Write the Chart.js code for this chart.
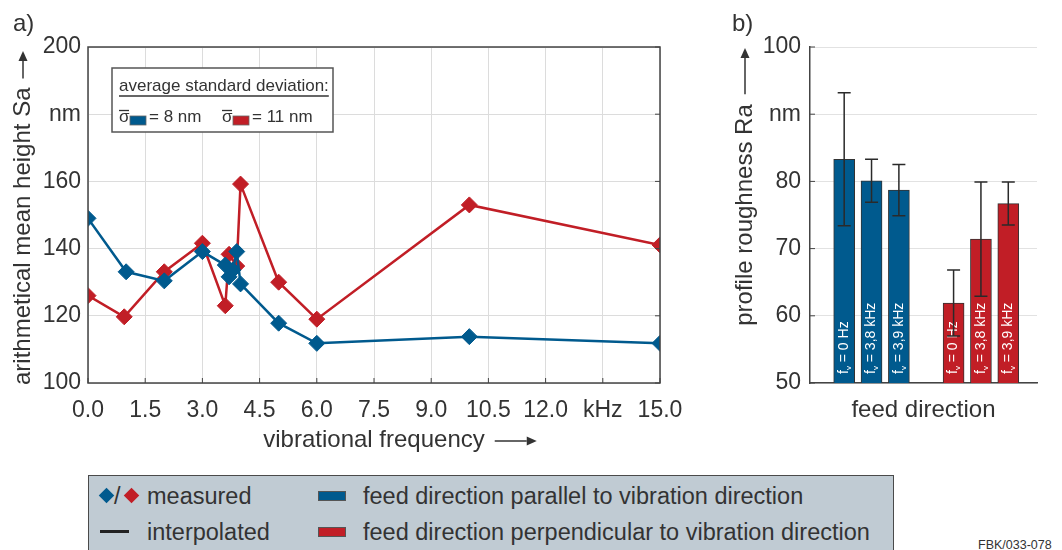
<!DOCTYPE html>
<html>
<head>
<meta charset="utf-8">
<script src="https://cdn.jsdelivr.net/npm/chart.js@4.4.1/dist/chart.umd.min.js"></script>
<style>
  body { margin: 0; width: 1062px; height: 550px; overflow: hidden; background: #fff;
         font-family: "Liberation Sans", Arial, sans-serif; color: #333; position: relative; }
  canvas { position: absolute; top: 0; }
  #sa-chart { left: 0; }
  #ra-chart { left: 700px; }
  .panel-tag { position: absolute; font-size: 24px; line-height: 24px; color: #333; }
  #legend { position: absolute; left: 88px; top: 475px; width: 804px; height: 90px;
            background: #c0cbd3; border: 1.5px solid #4a4a4a; border-bottom: none; }
  #legend span { position: absolute; }
  .lg-text { font-size: 23.5px; line-height: 28px; color: #333; white-space: nowrap; }
  .diamond { width: 11px; height: 11px; transform: rotate(45deg); }
  #fbk { position: absolute; left: 978px; top: 538px; font-size: 12.5px; color: #333; }
</style>
</head>
<body>
<canvas id="sa-chart" width="700" height="470"></canvas>
<canvas id="ra-chart" width="362" height="470"></canvas>
<div class="panel-tag" style="left:13px; top:11px;">a)</div>
<div class="panel-tag" style="left:732px; top:11px;">b)</div>

<div id="legend">
  <span class="diamond" style="left:12px; top:14px; background:#005a8e;"></span>
  <span class="lg-text" style="left:25px; top:6px;">/</span>
  <span class="diamond" style="left:37px; top:14px; background:#c11e26;"></span>
  <span class="lg-text" style="left:58px; top:6px;">measured</span>
  <span style="left:11px; top:54px; width:29px; height:2.5px; background:#222;"></span>
  <span class="lg-text" style="left:58px; top:42px;">interpolated</span>
  <span style="left:229px; top:15px; width:28px; height:10px; background:#005a8e; border:1px solid #555; box-sizing:border-box;"></span>
  <span class="lg-text" style="left:274px; top:6px;">feed direction parallel to vibration direction</span>
  <span style="left:229px; top:51px; width:28px; height:10px; background:#c11e26; border:1px solid #555; box-sizing:border-box;"></span>
  <span class="lg-text" style="left:274px; top:42px;">feed direction perpendicular to vibration direction</span>
</div>
<div id="fbk">FBK/033-078</div>

<script>
const BLUE = "#005a8e";
const RED = "#c11e26";
const INK = "#333333";
const FONT = '"Liberation Sans", Arial, sans-serif';

// a) arithmetical mean height Sa over vibrational frequency
const freqParallel = [0, 1, 2, 3, 3.6, 3.7, 3.8, 3.9, 4, 5, 6, 10, 15];
const saParallel = [149, 133.1, 130.4, 139.1, 135.1, 131.6, 133.6, 139.1, 129.5, 117.8, 111.8, 113.8, 111.8];
const freqPerp = [0, 0.95, 2, 3, 3.6, 3.7, 3.9, 4, 5, 6, 10, 15];
const saPerp = [126, 119.7, 133.1, 141.6, 123, 138.3, 134.8, 159.2, 130, 119, 153, 141.1];
const freqTickLabels = ["0.0", "1.5", "3.0", "4.5", "6.0", "7.5", "9.0", "10.5", "12.0", "kHz", "15.0"];
const saTickLabels = ["100", "120", "140", "160", "nm", "200"];

// b) profile roughness Ra
const barCategories = ["0 Hz", "3,8 kHz", "3,9 kHz"];
const raParallel = [83.3, 80.1, 78.7];
const raParallelErr = [9.9, 3.2, 3.8];
const raPerp = [61.9, 71.4, 76.7];
const raPerpErr = [4.9, 8.5, 3.2];
const raTickLabels = ["50", "60", "70", "80", "nm", "100"];

function drawArrow(ctx, x1, y1, x2, y2) {
  const ang = Math.atan2(y2 - y1, x2 - x1);
  const head = 10;
  ctx.save();
  ctx.strokeStyle = INK;
  ctx.fillStyle = INK;
  ctx.lineWidth = 1.5;
  ctx.beginPath();
  ctx.moveTo(x1, y1);
  ctx.lineTo(x2 - Math.cos(ang) * head, y2 - Math.sin(ang) * head);
  ctx.stroke();
  ctx.translate(x2, y2);
  ctx.rotate(ang);
  ctx.beginPath();
  ctx.moveTo(0, 0);
  ctx.lineTo(-head, -4.5);
  ctx.lineTo(-head, 4.5);
  ctx.closePath();
  ctx.fill();
  ctx.restore();
}

const saDecor = {
  id: "saDecor",
  afterDraw(chart) {
    const ctx = chart.ctx;
    const a = chart.chartArea;
    const xs = chart.scales.x;
    const ys = chart.scales.y;
    ctx.save();
    // frame
    ctx.strokeStyle = "#444";
    ctx.lineWidth = 1.5;
    ctx.strokeRect(a.left, a.top, a.right - a.left, a.bottom - a.top);
    // inward ticks
    ctx.lineWidth = 1;
    ctx.beginPath();
    xs.ticks.forEach((t, i) => {
      const px = xs.getPixelForTick(i);
      ctx.moveTo(px, a.bottom);
      ctx.lineTo(px, a.bottom - 5);
    });
    ys.ticks.forEach((t, i) => {
      const py = ys.getPixelForTick(i);
      ctx.moveTo(a.right, py);
      ctx.lineTo(a.right - 5, py);
    });
    ctx.stroke();

    // axis titles
    ctx.fillStyle = INK;
    ctx.font = "24px " + FONT;
    ctx.textBaseline = "middle";
    const xt = "vibrational frequency";
    const xw = ctx.measureText(xt).width;
    const cx = (a.left + a.right) / 2;
    ctx.textAlign = "center";
    ctx.fillText(xt, cx, 440);
    drawArrow(ctx, cx + xw / 2 + 10, 441, cx + xw / 2 + 52, 441);

    const yt = "arithmetical mean height Sa";
    const yw = ctx.measureText(yt).width;
    ctx.save();
    ctx.translate(23, a.bottom + 2);
    ctx.rotate(-Math.PI / 2);
    ctx.textAlign = "left";
    ctx.fillText(yt, 0, 0);
    ctx.restore();
    drawArrow(ctx, 23, a.bottom + 2 - yw - 9, 23, a.top + 4);

    // standard deviation box
    const bx = 112, by = 68, bw = 221, bh = 64;
    ctx.fillStyle = "#fff";
    ctx.fillRect(bx, by, bw, bh);
    ctx.strokeStyle = "#555";
    ctx.lineWidth = 1.5;
    ctx.strokeRect(bx, by, bw, bh);
    ctx.fillStyle = INK;
    ctx.font = "17px " + FONT;
    ctx.textAlign = "left";
    ctx.textBaseline = "alphabetic";
    const head = "average standard deviation:";
    ctx.fillText(head, 119, 91);
    const hw = ctx.measureText(head).width;
    ctx.strokeStyle = INK;
    ctx.lineWidth = 1.3;
    ctx.beginPath();
    ctx.moveTo(119, 96);
    ctx.lineTo(119 + hw, 96);
    ctx.stroke();

    const sigma = (x, color, label) => {
      ctx.fillStyle = INK;
      ctx.fillText("\u03c3", x, 122);
      ctx.beginPath();
      ctx.moveTo(x, 110.5);
      ctx.lineTo(x + 10, 110.5);
      ctx.stroke();
      ctx.fillStyle = color;
      ctx.fillRect(x + 11, 116, 16, 9);
      ctx.strokeStyle = "#666";
      ctx.lineWidth = 0.8;
      ctx.strokeRect(x + 11, 116, 16, 9);
      ctx.strokeStyle = INK;
      ctx.lineWidth = 1.3;
      ctx.fillStyle = INK;
      ctx.fillText(label, x + 30, 122);
    };
    sigma(119, BLUE, "= 8 nm");
    sigma(222, RED, "= 11 nm");
    ctx.restore();
  }
};

const raDecor = {
  id: "raDecor",
  afterDatasetsDraw(chart) {
    const ctx = chart.ctx;
    const a = chart.chartArea;
    const ys = chart.scales.y;
    const errs = [raParallelErr, raPerpErr];
    ctx.save();
    chart.data.datasets.forEach((ds, di) => {
      chart.getDatasetMeta(di).data.forEach((bar, i) => {
        // label inside bar
        ctx.save();
        ctx.translate(bar.x, a.bottom - 9);
        ctx.rotate(-Math.PI / 2);
        ctx.fillStyle = "#fff";
        ctx.textBaseline = "middle";
        ctx.textAlign = "left";
        ctx.font = "14px " + FONT;
        ctx.fillText("f", 0, 0);
        const fw = ctx.measureText("f").width;
        ctx.font = "8px " + FONT;
        ctx.fillText("v", fw, 4.5);
        ctx.font = "14px " + FONT;
        ctx.fillText(" = " + barCategories[i], fw + 4, 0);
        ctx.restore();

        // error bar
        const v = ds.data[i].y;
        const e = errs[di][i];
        const yTop = ys.getPixelForValue(v + e);
        const yBot = ys.getPixelForValue(v - e);
        ctx.strokeStyle = "#2a2a2a";
        ctx.lineWidth = 1.5;
        ctx.beginPath();
        ctx.moveTo(bar.x, yTop);
        ctx.lineTo(bar.x, yBot);
        ctx.moveTo(bar.x - 6.5, yTop);
        ctx.lineTo(bar.x + 6.5, yTop);
        ctx.moveTo(bar.x - 6.5, yBot);
        ctx.lineTo(bar.x + 6.5, yBot);
        ctx.stroke();
      });
    });
    ctx.restore();
  },
  afterDraw(chart) {
    const ctx = chart.ctx;
    const a = chart.chartArea;
    const ys = chart.scales.y;
    ctx.save();
    ctx.strokeStyle = "#444";
    ctx.lineWidth = 1;
    ctx.beginPath();
    ys.ticks.forEach((t, i) => {
      const py = ys.getPixelForTick(i);
      ctx.moveTo(a.left, py);
      ctx.lineTo(a.left + 5, py);
    });
    ctx.stroke();

    ctx.fillStyle = INK;
    ctx.font = "24px " + FONT;
    ctx.textBaseline = "middle";
    ctx.textAlign = "center";
    ctx.fillText("feed direction", (a.left + a.right) / 2, 410);

    const yt = "profile roughness Ra";
    const yw = ctx.measureText(yt).width;
    const cy = (a.top + a.bottom) / 2;
    ctx.save();
    ctx.translate(45, cy);
    ctx.rotate(-Math.PI / 2);
    ctx.fillText(yt, 0, 0);
    ctx.restore();
    drawArrow(ctx, 45, cy - yw / 2 - 10, 45, a.top + 1);
    ctx.restore();
  }
};

const tickFont = { family: FONT, size: 23 };

const lineStyle = color => ({
  borderColor: color,
  backgroundColor: color,
  borderWidth: 2.5,
  pointStyle: "rectRot",
  pointRadius: 8,
  pointBorderWidth: 1,
  tension: 0
});

new Chart(document.getElementById("sa-chart"), {
  type: "line",
  data: {
    datasets: [
      Object.assign({
        label: "parallel",
        data: freqParallel.map((f, i) => ({ x: f, y: saParallel[i] }))
      }, lineStyle(BLUE)),
      Object.assign({
        label: "perpendicular",
        data: freqPerp.map((f, i) => ({ x: f, y: saPerp[i] }))
      }, lineStyle(RED))
    ]
  },
  options: {
    responsive: false,
    animation: false,
    devicePixelRatio: 1,
    layout: { padding: { left: 0, top: 47, right: 40, bottom: 0 } },
    plugins: { legend: { display: false }, tooltip: { enabled: false } },
    scales: {
      x: {
        type: "linear",
        min: 0,
        max: 15,
        afterFit: s => { s.height = 470 - 383; },
        ticks: {
          stepSize: 1.5,
          color: INK,
          font: tickFont,
          padding: 14,
          maxRotation: 0,
          callback: (v, i) => freqTickLabels[i]
        },
        grid: { color: "#dcdcdc", lineWidth: 1, drawTicks: false },
        border: { display: false }
      },
      y: {
        min: 100,
        max: 200,
        afterFit: s => { s.width = 88; },
        ticks: {
          stepSize: 20,
          color: INK,
          font: tickFont,
          padding: 7,
          callback: (v, i) => saTickLabels[i]
        },
        grid: { color: "#dcdcdc", lineWidth: 1, drawTicks: false },
        border: { display: false }
      }
    }
  },
  plugins: [saDecor]
});

const perpStart = raParallel.length + 1;

const barStyle = color => ({
  backgroundColor: color,
  borderColor: "#333",
  borderWidth: 1,
  barThickness: 21,
  grouped: false
});

new Chart(document.getElementById("ra-chart"), {
  type: "bar",
  data: {
    datasets: [
      Object.assign({
        label: "parallel",
        data: raParallel.map((v, i) => ({ x: i, y: v }))
      }, barStyle(BLUE)),
      Object.assign({
        label: "perpendicular",
        data: raPerp.map((v, i) => ({ x: perpStart + i, y: v }))
      }, barStyle(RED))
    ]
  },
  options: {
    responsive: false,
    animation: false,
    devicePixelRatio: 1,
    layout: { padding: { left: 0, top: 47, right: 25, bottom: 0 } },
    plugins: { legend: { display: false }, tooltip: { enabled: false } },
    scales: {
      x: {
        type: "linear",
        offset: false,
        min: -1.25,
        max: 7.05,
        afterFit: s => { s.height = 470 - 383; },
        ticks: { display: false },
        grid: { display: false, offset: false },
        border: { display: true, color: "#444", width: 1.5 }
      },
      y: {
        min: 50,
        max: 100,
        afterFit: s => { s.width = 110; },
        ticks: {
          stepSize: 10,
          color: INK,
          font: tickFont,
          padding: 9,
          callback: (v, i) => raTickLabels[i]
        },
        grid: { color: "#e2e2e2", lineWidth: 1, drawTicks: false },
        border: { display: true, color: "#444", width: 1.5 }
      }
    }
  },
  plugins: [raDecor]
});
</script>
</body>
</html>
